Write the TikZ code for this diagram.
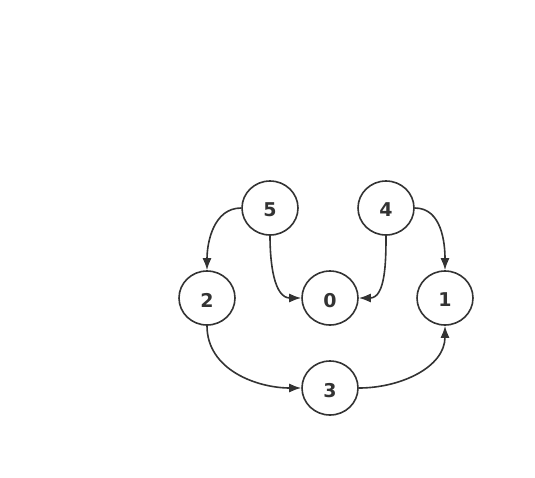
\documentclass[tikz,border=0pt]{standalone}
\usepackage{fontspec}
\setmainfont{DejaVu Sans}
\usetikzlibrary{arrows.meta,shapes.geometric}
\definecolor{ink}{HTML}{333333}
\newcommand{\dg}[1]{\raisebox{-2pt}[\height][0pt]{#1}}
\begin{document}
\begin{tikzpicture}[x=1pt,y=-1pt,
  vert/.style={draw=ink,line width=1.6pt,ellipse,minimum width=56pt,minimum height=54pt,inner sep=0pt,text=ink,font=\bfseries\fontsize{19}{22}\selectfont},
  edge/.style={draw=ink,line width=1.6pt,-{Latex[length=12pt,width=9pt]}}]
\useasboundingbox (0,0) rectangle (535,477);
\node[vert] (n5) at (270,208) {\dg{5}};
\node[vert] (n4) at (386,208) {\dg{4}};
\node[vert] (n2) at (207,298) {\dg{2}};
\node[vert] (n0) at (330,298) {\dg{0}};
\node[vert] (n1) at (445,298) {\dg{1}};
\node[vert] (n3) at (330,388) {\dg{3}};
\draw[edge] (n5.west) to[out=180,in=90] (n2.north);
\draw[edge] (n5.south) to[out=-90,in=180] (n0.west);
\draw[edge] (n4.south) to[out=-90,in=0] (n0.east);
\draw[edge] (n4.east) to[out=0,in=90] (n1.north);
\draw[edge] (n2.south) to[out=-90,in=180] (n3.west);
\draw[edge] (n3.east) to[out=0,in=-90] (n1.south);
\end{tikzpicture}
\end{document}
